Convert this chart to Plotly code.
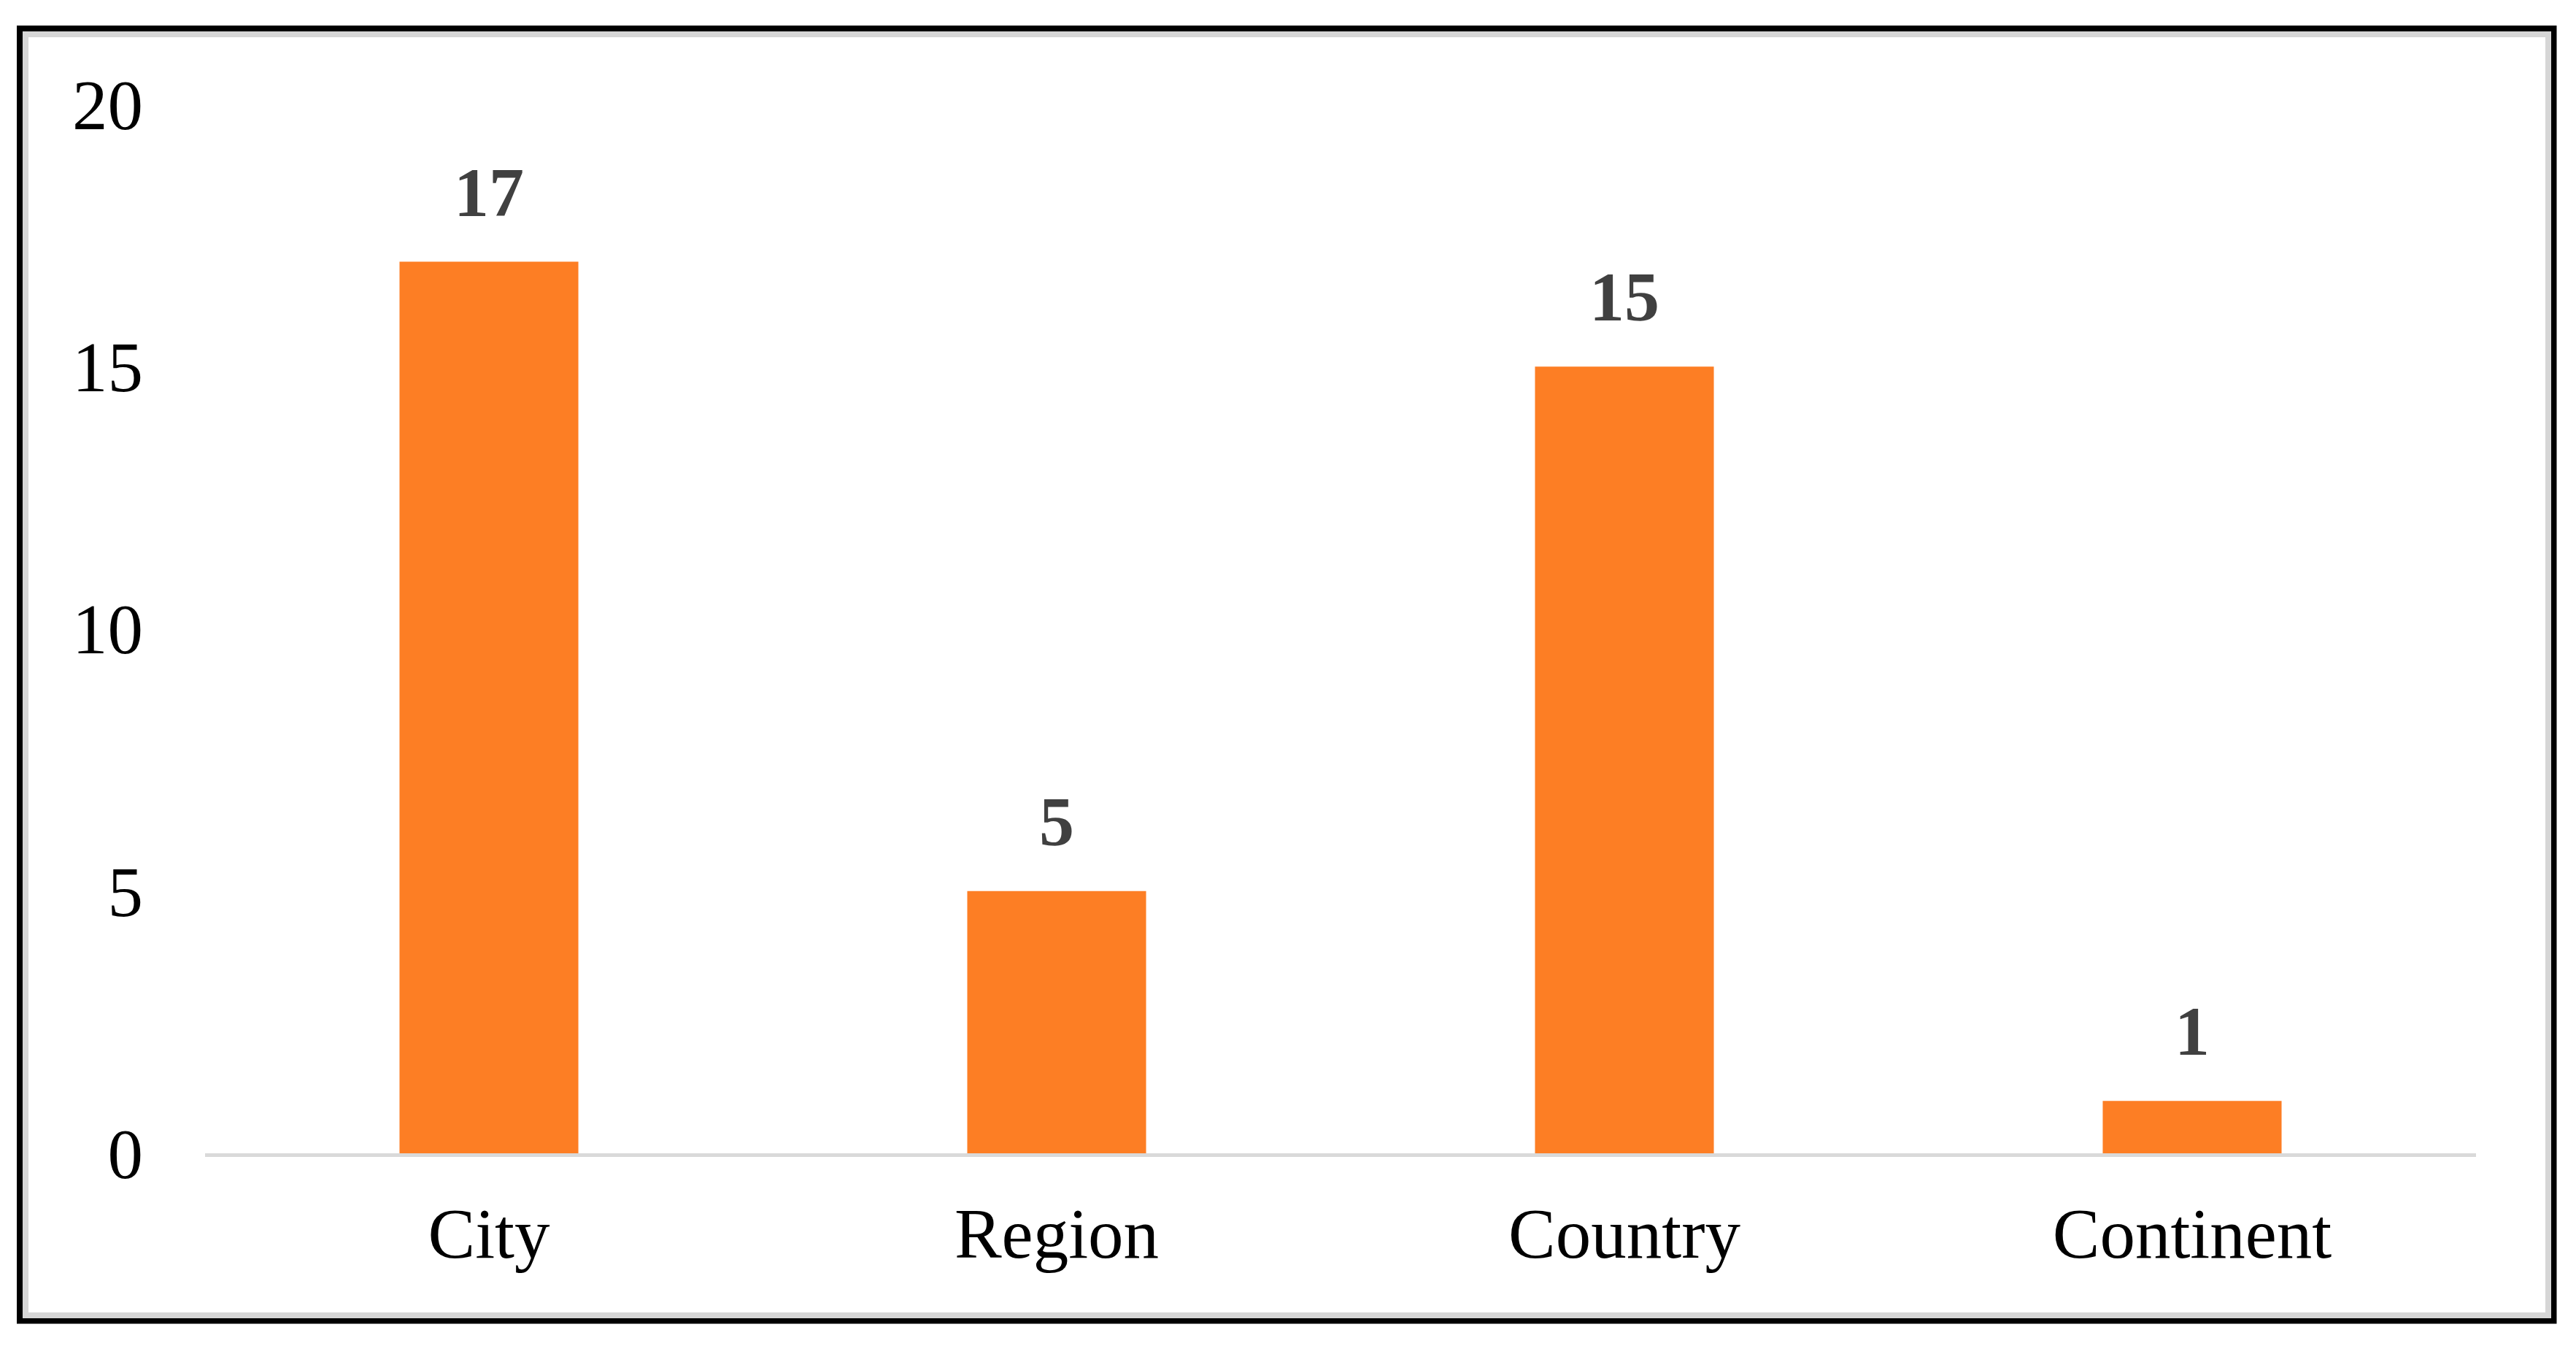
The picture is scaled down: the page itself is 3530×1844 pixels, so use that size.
import plotly.graph_objects as go

categories = ["City", "Region", "Country", "Continent"]
values = [17, 5, 15, 1]
y_ticks = [0, 5, 10, 15, 20]

W, H = 3530, 1844
OFF = 8  # default page body margin
L, R = 281 - OFF, 3393 - OFF
T, B = 143 - OFF, 1580 - OFF

def px_to_paper_x(px):
    return (px - OFF - L) / (R - L)

def px_to_paper_y(py):
    return (B - (py - OFF)) / (B - T)

fig = go.Figure()
fig.add_trace(go.Bar(
    x=categories, y=values, width=0.315,
    marker=dict(color="#FD7E24", line=dict(width=0)),
    hoverinfo="skip",
))

for c, v in zip(categories, values):
    fig.add_annotation(
        x=c, y=v, text=str(v), showarrow=False, yanchor="bottom", yshift=40,
        font=dict(family="Liberation Serif", size=96, color="#404040", weight="bold"),
    )

shapes = []
# outer black frame
shapes.append(dict(type="rect", xref="paper", yref="paper",
                   x0=px_to_paper_x(27), x1=px_to_paper_x(3499.5),
                   y0=px_to_paper_y(1809.5), y1=px_to_paper_y(39),
                   line=dict(color="black", width=8), fillcolor="rgba(0,0,0,0)", layer="below"))
# inner grey frame
shapes.append(dict(type="rect", xref="paper", yref="paper",
                   x0=px_to_paper_x(35), x1=px_to_paper_x(3492),
                   y0=px_to_paper_y(1802), y1=px_to_paper_y(47),
                   line=dict(color="#D6D6D6", width=8), fillcolor="rgba(0,0,0,0)", layer="below"))

fig.update_layout(
    width=W, height=H,
    margin=dict(l=L, r=W - R, t=T, b=H - B, pad=0),
    paper_bgcolor="white", plot_bgcolor="white",
    showlegend=False,
    shapes=shapes,
    bargap=0.685,
    xaxis=dict(
        showline=True, linecolor="#D9D9D9", linewidth=5,
        showgrid=False, zeroline=False, ticks="",
        tickfont=dict(family="Liberation Serif", size=97, color="black"),
        ticklabelstandoff=22,
    ),
    yaxis=dict(
        range=[0, 20], tickvals=y_ticks, showline=False, showgrid=False, zeroline=False,
        ticks="", tickfont=dict(family="Liberation Serif", size=97, color="black"),
        ticklabelstandoff=84,
    ),
)

fig.write_html("out.html")
